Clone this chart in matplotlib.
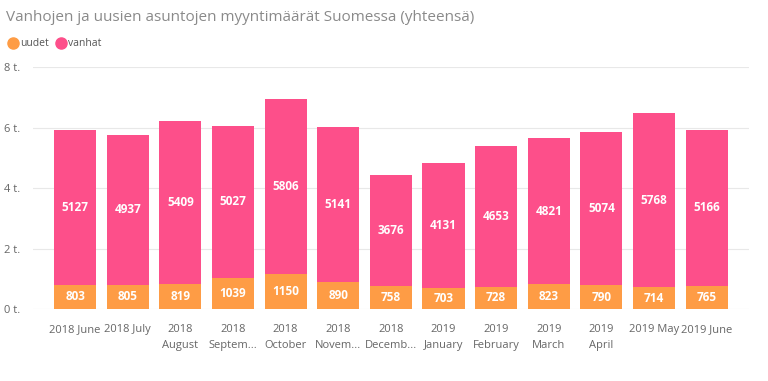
import matplotlib
matplotlib.use("Agg")
import matplotlib.pyplot as plt
from matplotlib.lines import Line2D

categories = ["2018 June", "2018 July", "2018\nAugust", "2018\nSeptem...", "2018\nOctober",
              "2018\nNovem...", "2018\nDecemb...", "2019\nJanuary", "2019\nFebruary",
              "2019\nMarch", "2019\nApril", "2019 May", "2019 June"]
uudet = [803, 805, 819, 1039, 1150, 890, 758, 703, 728, 823, 790, 714, 765]
vanhat = [5127, 4937, 5409, 5027, 5806, 5141, 3676, 4131, 4653, 4821, 5074, 5768, 5166]
yticks = [0, 2000, 4000, 6000, 8000]
ytick_labels = ["0 t.", "2 t.", "4 t.", "6 t.", "8 t."]

c_uudet = "#FE9C45"
c_vanhat = "#FD4F8A"
plt.rcParams['font.family'] = ['Open Sans', 'DejaVu Sans']

fig = plt.figure(figsize=(7.68, 3.81), dpi=100)
ax = fig.add_axes([0.043, 0.189, 0.932, 0.635])
x = list(range(len(categories)))
ax.bar(x, uudet, width=0.8, color=c_uudet, zorder=3)
ax.bar(x, vanhat, width=0.8, bottom=uudet, color=c_vanhat, zorder=3)
for i in x:
    ax.text(i, uudet[i] / 2, str(uudet[i]), ha="center", va="center", color="white",
            fontsize=8.5, fontweight="bold", zorder=4)
    ax.text(i, uudet[i] + vanhat[i] / 2, str(vanhat[i]), ha="center", va="center",
            color="white", fontsize=8.5, fontweight="bold", zorder=4)

ax.set_xlim(-0.8, 12.8)
ax.set_ylim(0, 8000)
ax.set_yticks(yticks)
ax.set_yticklabels(ytick_labels)
ax.set_xticks(x)
ax.set_xticklabels(categories, linespacing=1.55)
ax.grid(axis="y", color="#E8E8E8", linewidth=0.8, zorder=0)
for s in ax.spines.values():
    s.set_visible(False)
ax.tick_params(axis="both", length=0, colors="#666666", labelsize=8)
ax.tick_params(axis="y", pad=-2)
ax.tick_params(axis="x", pad=11)
for lbl in ax.get_yticklabels():
    lbl.set_horizontalalignment("left")
    lbl.set_x(-0.045)

fig.text(0.008, 0.955, "Vanhojen ja uusien asuntojen myyntimäärät Suomessa (yhteensä)",
         fontsize=11, color="#8A8A8A", va="center", ha="left")
handles = [Line2D([], [], marker="o", linestyle="", markersize=8, color=c_uudet),
           Line2D([], [], marker="o", linestyle="", markersize=8, color=c_vanhat)]
fig.legend(handles, ["uudet", "vanhat"], loc="center left", bbox_to_anchor=(0.0, 0.885),
           ncol=2, frameon=False, fontsize=7.5, handletextpad=-0.3, columnspacing=0.2,
           labelcolor="#555555", borderaxespad=0, borderpad=0.2)

fig.savefig("out.png", dpi=100, facecolor="white")
